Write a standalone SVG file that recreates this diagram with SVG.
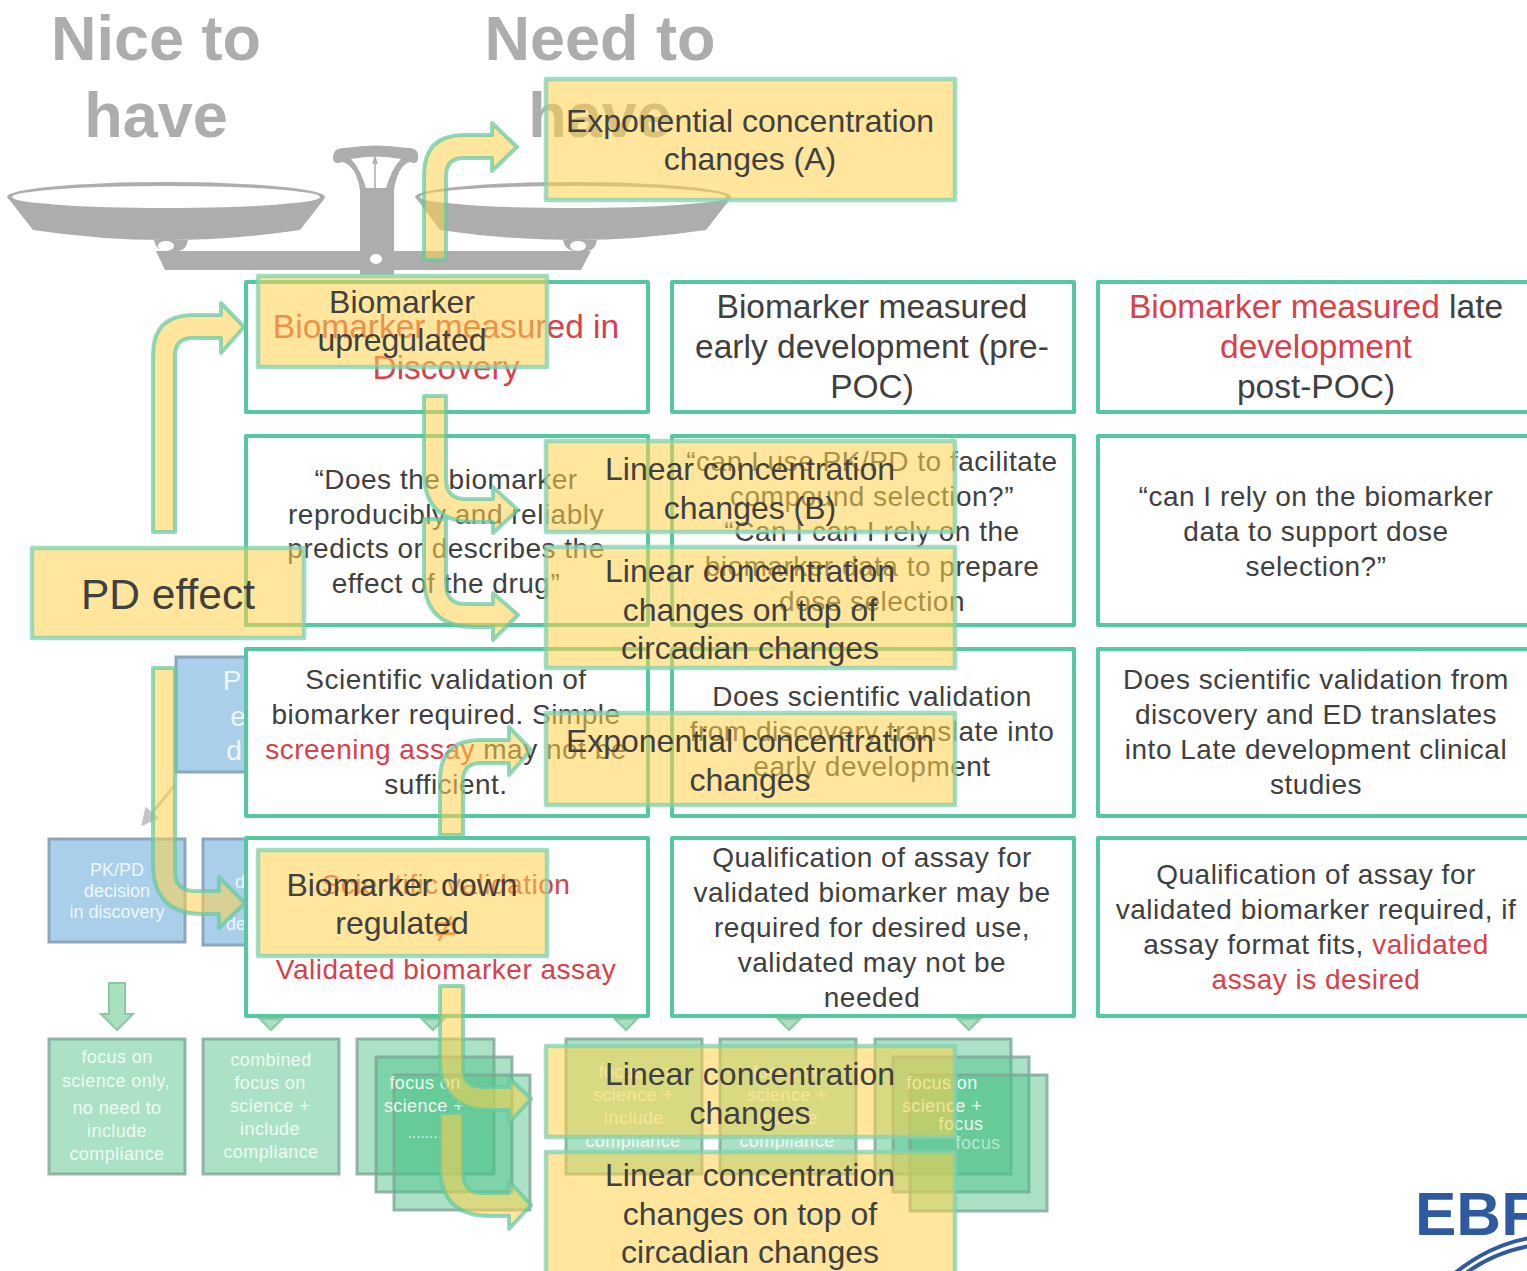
<svg xmlns="http://www.w3.org/2000/svg" width="1527" height="1271" viewBox="0 0 1527 1271">
<style>
text{font-family:"Liberation Sans",Arial,sans-serif;text-anchor:middle}
.t{font-size:63px;font-weight:bold;fill:#adadad}
.g{fill:#adadad}
.cell{fill:#fff;stroke:#55c8a0;stroke-width:4;stroke-linejoin:round}
.c{font-size:33.5px;fill:#404040}
.s{font-size:28px;fill:#404040;letter-spacing:.5px}
.r{fill:#d9404a}
.y{fill:#ffd24b;fill-opacity:.55;stroke:#7fd1b3;stroke-opacity:.75;stroke-width:4.5;stroke-linejoin:round}
.a{fill:#ffd24b;fill-opacity:.55;stroke:#62c7a4;stroke-opacity:.7;stroke-width:4;stroke-linejoin:round}
.yt{font-size:32px;fill:#404040}
.blue{fill:#aacfea;stroke:#8ea6bc;stroke-width:3}
.bt{fill:#eef6fb;font-size:18px}
.green{fill:#4cc285;fill-opacity:.47;stroke:#7ea596;stroke-opacity:.8;stroke-width:3}
.gt{fill:#eefaf2;font-size:18px;letter-spacing:.4px}
.tri{fill:#a8e0c0;stroke:#8cc8a8;stroke-width:2}
</style>
<defs><marker id="gh" markerWidth="7" markerHeight="7" refX="5" refY="3" orient="auto"><path d="M0 0L6 3L0 6Z" fill="#c4c4c4"/></marker></defs>

<g id="scale">
<text class="t" x="156" y="60">Nice to</text>
<text class="t" x="156" y="137">have</text>
<text class="t" x="600" y="60">Need to</text>
<text class="t" x="600" y="137">have</text>
<path class="g" d="M154 240Q156 251 166 251H178Q186 251 188 240Z"/>
<path class="g" d="M563 240Q565 251 575 251H587Q595 251 597 240Z"/>
<ellipse class="g" cx="166" cy="197" rx="159" ry="15"/>
<path class="g" d="M8 198L33 230Q166 250 300 230L325 198Z"/>
<ellipse cx="166" cy="197" rx="154" ry="11" fill="#fff"/>
<ellipse class="g" cx="573" cy="197" rx="158" ry="15"/>
<path class="g" d="M416 198L440 230Q573 250 706 230L731 198Z"/>
<ellipse cx="573" cy="197" rx="153" ry="11" fill="#fff"/>
<ellipse cx="166" cy="246" rx="8" ry="5" fill="#fff"/><ellipse cx="578" cy="246" rx="8" ry="5" fill="#fff"/>
<path class="g" d="M156 251H591L581 270H394V275H360V270H165Z"/>
<path class="g" d="M333 158Q333 147 345 148Q376 143 407 148Q419 147 418 158Q418 165 410 162Q398 165 394 190V252H360V190Q356 165 342 162Q333 165 333 158Z"/>
<path d="M351 159Q376 154 401 159Q392 168 386 188H366Q360 168 351 159Z" fill="#fff"/>
<path d="M375 188V160M373 164L375 157L377 164" stroke="#adadad" stroke-width="1.5" fill="none"/>
<ellipse cx="376" cy="259" rx="6" ry="5" fill="#fff"/>
</g>

<g id="pkpd-top"><rect class="blue" x="176" y="657" width="100" height="115"/>
<text x="232" y="690" class="bt" style="font-size:28px">P</text><text x="238" y="726" class="bt" style="font-size:28px">e</text><text x="234" y="760" class="bt" style="font-size:28px">d</text></g>
<g id="pkpd-discovery"><rect class="blue" x="49" y="839" width="136" height="103"/>
<text class="bt" x="117" y="876">PK/PD</text><text class="bt" x="117" y="897">decision</text><text class="bt" x="117" y="918">in discovery</text></g>
<g id="pkpd-2"><rect class="blue" x="203" y="839" width="70" height="106"/>
<text class="bt" x="240" y="888">d</text><text class="bt" x="236" y="930">de</text></g>

<g id="focus-1"><rect class="green" x="49" y="1039" width="136" height="135"/>
<text class="gt" x="117" y="1063">focus on</text><text class="gt" x="116" y="1087">science only,</text><text class="gt" x="117" y="1114">no need to</text><text class="gt" x="117" y="1137">include</text><text class="gt" x="117" y="1160">compliance</text></g>
<g id="focus-2"><rect class="green" x="203" y="1039" width="136" height="135"/>
<text class="gt" x="271" y="1066">combined</text><text class="gt" x="270" y="1089">focus on</text><text class="gt" x="270" y="1112">science +</text><text class="gt" x="270" y="1135">include</text><text class="gt" x="271" y="1158">compliance</text></g>
<g id="focus-3"><rect class="green" x="357" y="1039" width="137" height="135"/><rect class="green" x="376" y="1057" width="136" height="135"/><rect class="green" x="394" y="1075" width="136" height="135"/>
<text class="gt" x="425" y="1089">focus on</text><text class="gt" x="424" y="1112">science +</text><text class="gt" x="425" y="1138" style="font-size:14px">........</text></g>
<g id="focus-4"><rect class="green" x="566" y="1039" width="136" height="135"/>
<text class="gt" x="634" y="1078">focus on</text><text class="gt" x="633" y="1101">science +</text><text class="gt" x="634" y="1124">include</text><text class="gt" x="633" y="1147">compliance</text></g>
<g id="focus-5"><rect class="green" x="720" y="1039" width="136" height="135"/>
<text class="gt" x="788" y="1078">focus on</text><text class="gt" x="787" y="1101">science +</text><text class="gt" x="788" y="1124">include</text><text class="gt" x="787" y="1147">compliance</text></g>
<g id="focus-6"><rect class="green" x="875" y="1039" width="136" height="135"/><rect class="green" x="893" y="1057" width="136" height="135"/><rect class="green" x="910" y="1075" width="137" height="136"/>
<text class="gt" x="942" y="1089">focus on</text><text class="gt" x="942" y="1112">science +</text><text class="gt" x="961" y="1130">focus</text><text class="gt" x="942" y="1137" style="font-size:14px">........</text><text class="gt" x="978" y="1149" style="opacity:.6">focus</text></g>

<g id="cell-1-1"><rect class="cell" x="246" y="282" width="402" height="130"/>
<text class="c r" x="446" y="338">Biomarker measured in</text><text class="c r" x="446" y="379">Discovery</text></g>
<g id="cell-1-2"><rect class="cell" x="672" y="282" width="402" height="130"/>
<text class="c" x="872" y="318">Biomarker measured</text><text class="c" x="872" y="358">early development (pre-</text><text class="c" x="872" y="398">POC)</text></g>
<g id="cell-1-3"><rect class="cell" x="1098" y="282" width="432" height="130"/>
<text class="c" x="1316" y="318"><tspan class="r">Biomarker measured</tspan> late</text><text class="c r" x="1316" y="358">development</text><text class="c" x="1316" y="398">post-POC)</text></g>

<g id="cell-2-1"><rect class="cell" x="246" y="436" width="402" height="189"/>
<text class="s" x="446" y="489">“Does the biomarker</text><text class="s" x="446" y="524">reproducibly and reliably</text><text class="s" x="446" y="558">predicts or describes the</text><text class="s" x="446" y="593">effect of the drug”</text></g>
<g id="cell-2-2"><rect class="cell" x="672" y="436" width="402" height="189"/>
<text class="s" x="872" y="471">“can I use PK/PD to facilitate</text><text class="s" x="872" y="506">compound selection?”</text><text class="s" x="872" y="541">“Can I can I rely on the</text><text class="s" x="872" y="576">biomarker data to prepare</text><text class="s" x="872" y="611">dose selection</text></g>
<g id="cell-2-3"><rect class="cell" x="1098" y="436" width="432" height="189"/>
<text class="s" x="1316" y="506">“can I rely on the biomarker</text><text class="s" x="1316" y="541">data to support dose</text><text class="s" x="1316" y="576">selection?”</text></g>

<g id="cell-3-1"><rect class="cell" x="246" y="649" width="402" height="167"/>
<text class="s" x="446" y="689">Scientific validation of</text><text class="s" x="446" y="724">biomarker required. Simple</text><text class="s" x="446" y="759"><tspan class="r">screening assay</tspan> may not be</text><text class="s" x="446" y="794">sufficient.</text></g>
<g id="cell-3-2"><rect class="cell" x="672" y="649" width="402" height="167"/>
<text class="s" x="872" y="706">Does scientific validation</text><text class="s" x="872" y="741">from discovery translate into</text><text class="s" x="872" y="776">early development</text></g>
<g id="cell-3-3"><rect class="cell" x="1098" y="649" width="432" height="167"/>
<text class="s" x="1316" y="689">Does scientific validation from</text><text class="s" x="1316" y="724">discovery and ED translates</text><text class="s" x="1316" y="759">into Late development clinical</text><text class="s" x="1316" y="794">studies</text></g>

<g id="cell-4-1"><rect class="cell" x="246" y="838" width="402" height="178"/>
<text class="s r" x="446" y="894">Scientific validation</text><text class="s" x="446" y="942" style="font-size:40px;fill:#e8602a">≠</text><text class="s r" x="446" y="979">Validated biomarker assay</text></g>
<g id="cell-4-2"><rect class="cell" x="672" y="838" width="402" height="178"/>
<text class="s" x="872" y="867">Qualification of assay for</text><text class="s" x="872" y="902">validated biomarker may be</text><text class="s" x="872" y="937">required for desired use,</text><text class="s" x="872" y="972">validated may not be</text><text class="s" x="872" y="1007">needed</text></g>
<g id="cell-4-3"><rect class="cell" x="1098" y="838" width="432" height="178"/>
<text class="s" x="1316" y="884">Qualification of assay for</text><text class="s" x="1316" y="919">validated biomarker required, if</text><text class="s" x="1316" y="954">assay format fits, <tspan class="r">validated</tspan></text><text class="s r" x="1316" y="989">assay is desired</text></g>

<g id="connectors">
<path d="M175 785L143 824" stroke="#c4c4c4" stroke-width="3" fill="none" marker-end="url(#gh)"/>
<path class="tri" d="M109 983H125V1014H133L117 1030L101 1014H109Z"/>
<path class="tri" d="M260 1019H282L271 1030Z"/>
<path class="tri" d="M422 1019H444L433 1030Z"/>
<path class="tri" d="M615 1019H637L626 1030Z"/>
<path class="tri" d="M778 1019H800L789 1030Z"/>
<path class="tri" d="M958 1019H980L969 1030Z"/>
<path class="a" d="M424 260V175Q424 135 464 135H492V123L517 147L492 171V158H464Q446 158 446 176V260Z"/>
<path class="a" d="M153 532V355Q153 315 193 315H221V303L244 327L221 353V338H193Q175 338 175 356V532Z"/>
<path class="a" d="M424 396V472Q424 522 474 522H493V533L518 510L493 487V499H466Q446 499 446 479V396Z"/>
<path class="a" d="M424 519V577Q424 627 474 627H493V640L518 615L493 593V604H466Q446 604 446 584V519Z"/>
<path class="a" d="M440 835V780Q440 740 480 740H509V727L531 750L509 775V763H481Q463 763 463 781V835Z"/>
<path class="a" d="M153 668V864Q153 914 203 914H219V928L245 903L219 877V891H195Q175 891 175 871V668Z"/>
<path class="a" d="M440 986V1060Q440 1110 490 1110H509V1123L531 1099L509 1078V1087H483Q463 1087 463 1067V986Z"/>
<path class="a" d="M440 1113V1166Q440 1216 490 1216H509V1229L531 1205L509 1181V1193H483Q463 1193 463 1173V1113Z"/>
</g>

<g id="change-a"><rect class="y" x="546" y="79" width="409" height="121"/>
<text class="yt" x="750" y="132">Exponential concentration</text><text class="yt" x="750" y="170">changes (A)</text></g>
<g id="upregulated"><rect class="y" x="258" y="276" width="289" height="91"/>
<text class="yt" x="402" y="313">Biomarker</text><text class="yt" x="402" y="351">upregulated</text></g>
<g id="pd-effect"><rect class="y" x="32" y="548" width="272" height="90"/>
<text x="168" y="609" style="font-size:42.5px;fill:#404040">PD effect</text></g>
<g id="change-b"><rect class="y" x="546" y="441" width="409" height="91"/>
<text class="yt" x="750" y="480">Linear concentration</text><text class="yt" x="750" y="519">changes (B)</text></g>
<g id="change-c"><rect class="y" x="546" y="547" width="409" height="121"/>
<text class="yt" x="750" y="582">Linear concentration</text><text class="yt" x="750" y="621">changes on top of</text><text class="yt" x="750" y="659">circadian changes</text></g>
<g id="change-d"><rect class="y" x="546" y="713" width="409" height="92"/>
<text class="yt" x="750" y="752">Exponential concentration</text><text class="yt" x="750" y="791">changes</text></g>
<g id="downregulated"><rect class="y" x="258" y="850" width="289" height="106"/>
<text class="yt" x="402" y="896">Biomarker down</text><text class="yt" x="402" y="934">regulated</text></g>
<g id="change-e"><rect class="y" x="546" y="1046" width="409" height="91"/>
<text class="yt" x="750" y="1085">Linear concentration</text><text class="yt" x="750" y="1124">changes</text></g>
<g id="change-f"><rect class="y" x="546" y="1152" width="409" height="125"/>
<text class="yt" x="750" y="1186">Linear concentration</text><text class="yt" x="750" y="1225">changes on top of</text><text class="yt" x="750" y="1263">circadian changes</text></g>

<g id="logo"><text x="1415" y="1235" style="text-anchor:start;font-size:62px;font-weight:bold;fill:#2f5aa0">EBF</text>
<path d="M1455 1273Q1490 1245 1530 1238M1466 1273Q1495 1252 1530 1246" stroke="#2f5aa0" stroke-width="4" fill="none"/></g>
</svg>
